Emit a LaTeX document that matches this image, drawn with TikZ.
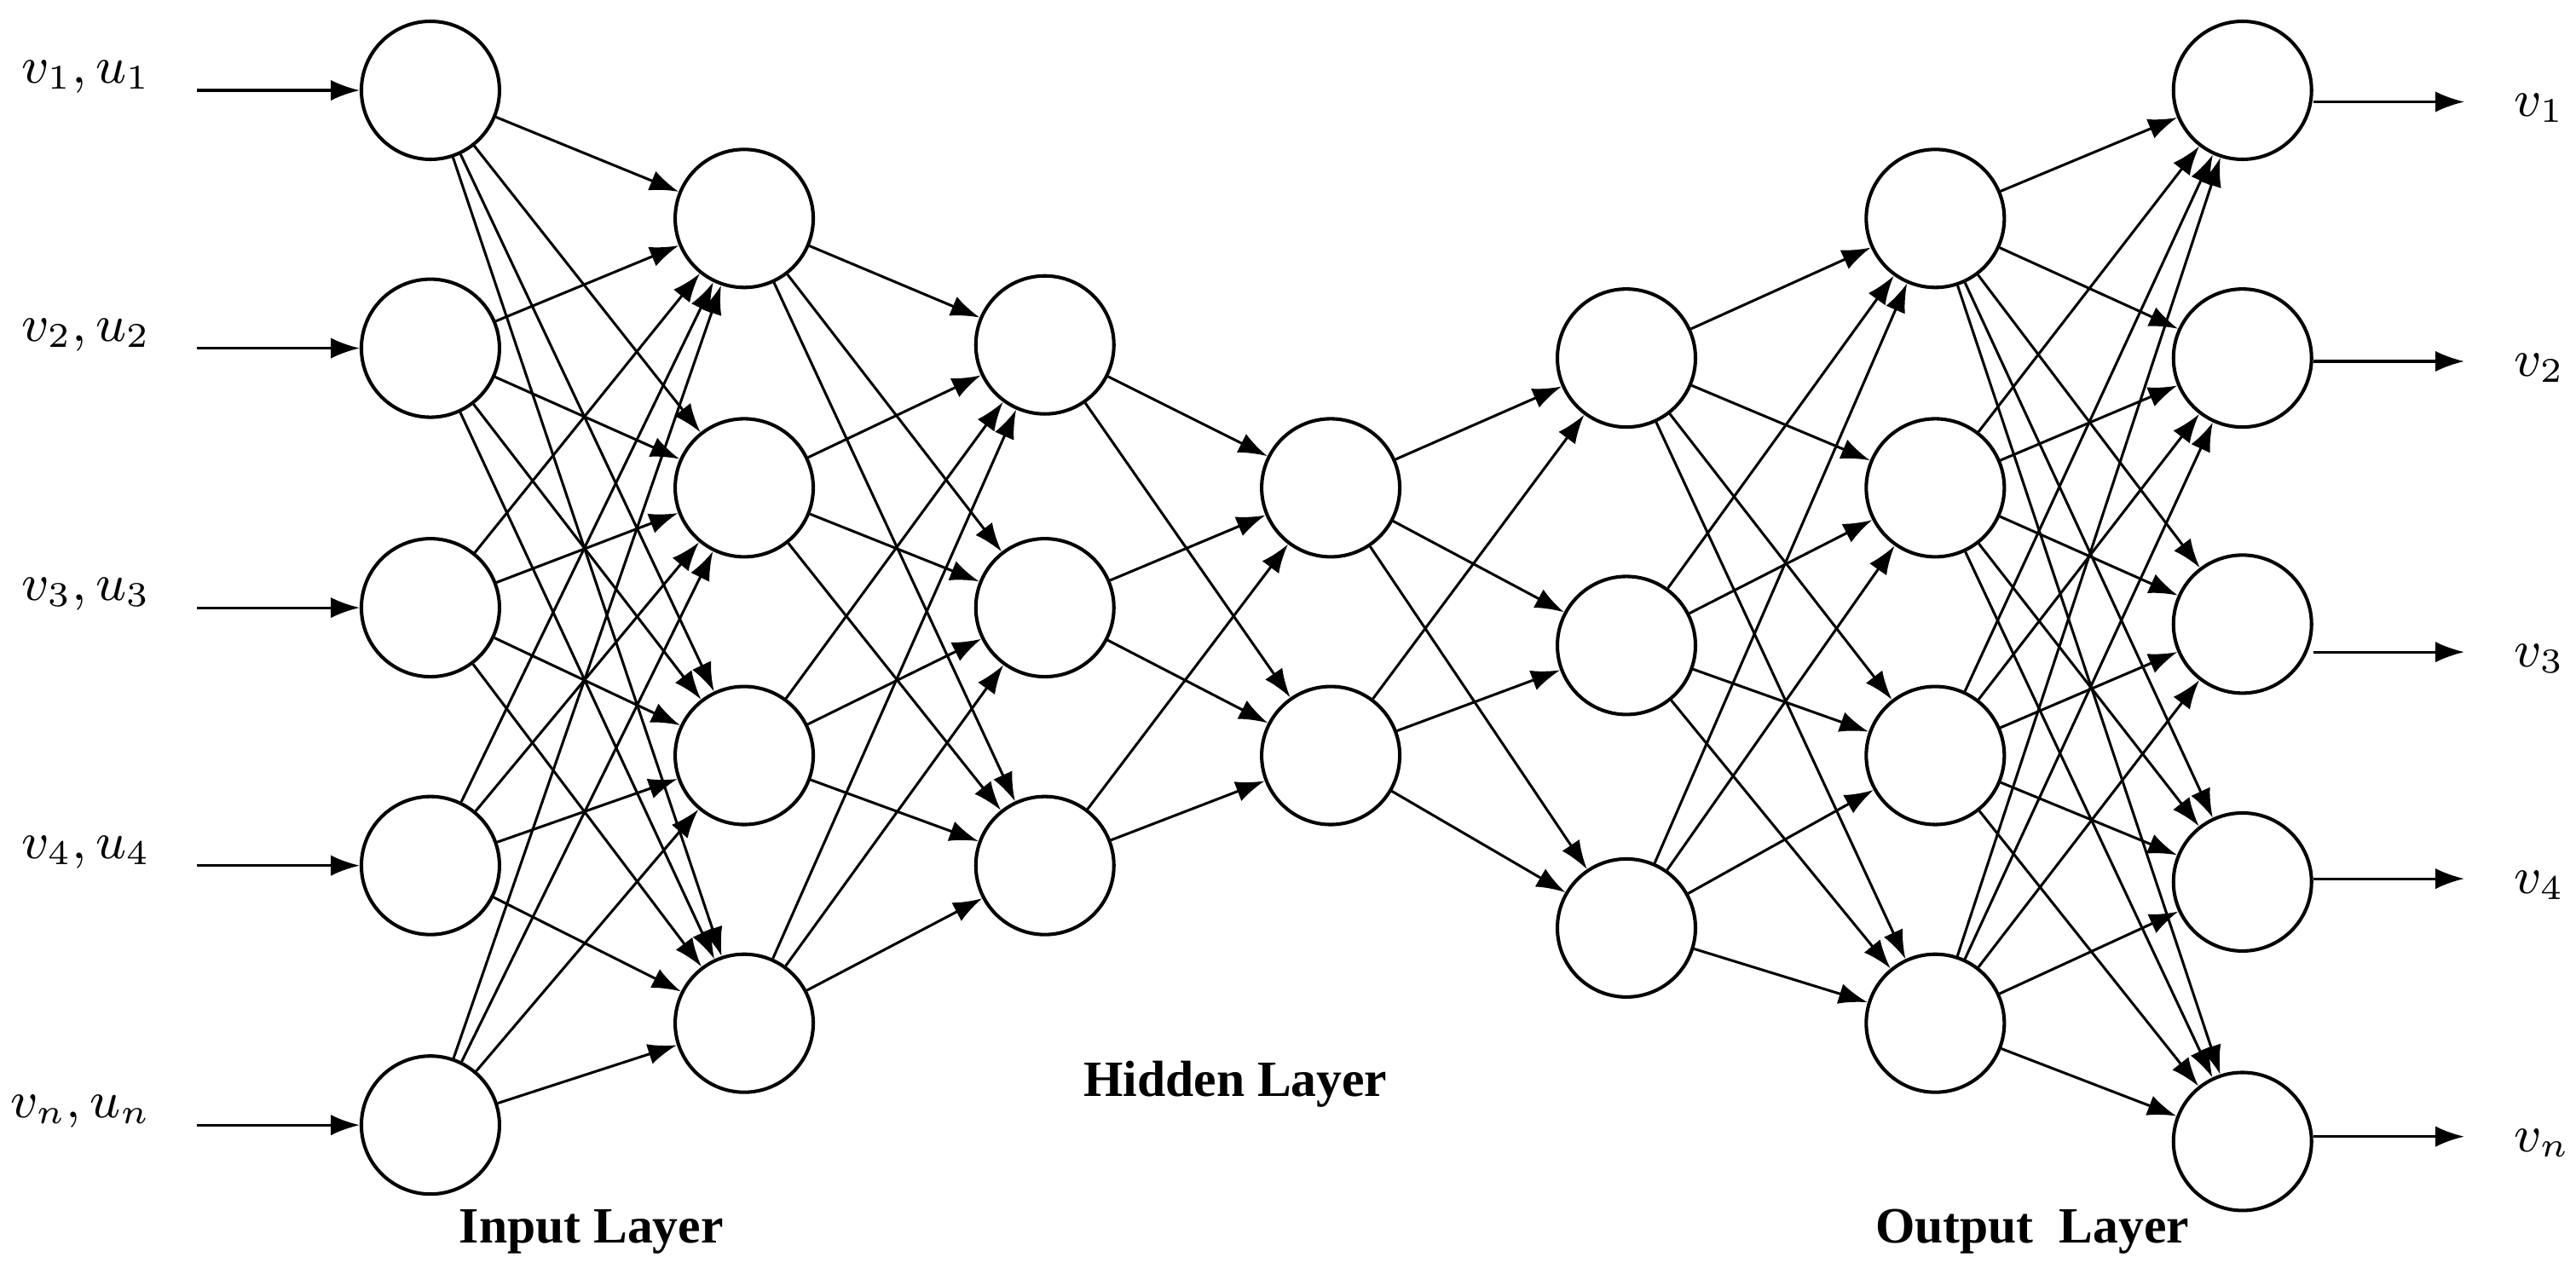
\documentclass[tikz,border=0pt]{standalone}
\usepackage{fontspec}
\newfontfamily\ttlfont{Liberation Serif}
\usetikzlibrary{arrows.meta}
\begin{document}
\begin{tikzpicture}[x=0.01cm,y=-0.01cm,
  neuron/.style={circle,draw,line width=0.6pt,minimum size=0.84cm,inner sep=0pt},
  conn/.style={line width=0.45pt,-{Latex[length=5pt,width=3.6pt]}},
  lab/.style={font=\small},
  ttl/.style={font=\ttlfont\fontsize{8.8}{10}\selectfont\bfseries}]
\useasboundingbox (0,0) rectangle (1568,779);
% layers
\foreach \y [count=\i] in {55,212,370,527,685} \node[neuron] (a\i) at (262,\y) {};
\foreach \y [count=\i] in {133,297,460,623} \node[neuron] (b\i) at (453,\y) {};
\foreach \y [count=\i] in {210,370,527} \node[neuron] (c\i) at (636,\y) {};
\foreach \y [count=\i] in {297,460} \node[neuron] (d\i) at (810,\y) {};
\foreach \y [count=\i] in {218,393,565} \node[neuron] (e\i) at (990,\y) {};
\foreach \y [count=\i] in {133,297,460,623} \node[neuron] (f\i) at (1178,\y) {};
\foreach \y [count=\i] in {55,218,380,537,695} \node[neuron] (g\i) at (1365,\y) {};
% connections
\foreach \i in {1,...,5} \foreach \j in {1,...,4} \draw[conn] (a\i) -- (b\j);
\foreach \i in {1,...,4} \foreach \j in {1,...,3} \draw[conn] (b\i) -- (c\j);
\foreach \i in {1,...,3} \foreach \j in {1,...,2} \draw[conn] (c\i) -- (d\j);
\foreach \i in {1,...,2} \foreach \j in {1,...,3} \draw[conn] (d\i) -- (e\j);
\foreach \i in {1,...,3} \foreach \j in {1,...,4} \draw[conn] (e\i) -- (f\j);
\foreach \i in {1,...,4} \foreach \j in {1,...,5} \draw[conn] (f\i) -- (g\j);
% inputs
\foreach \y/\t [count=\i] in {55/{v_1, u_1},212/{v_2, u_2},370/{v_3, u_3},527/{v_4, u_4},685/{v_n, u_n}}{
  \coordinate (in\i) at (120,\y);
  \node[lab,anchor=east] (il\i) at (104,\y-8) {$\t$};
  \draw[conn] (in\i) -- (a\i);
}
% outputs
\foreach \y/\t [count=\i] in {62/{v_1},220/{v_2},397/{v_3},535/{v_4},692/{v_n}}{
  \coordinate (out\i) at (1500,\y);
  \node[lab,anchor=west] (ol\i) at (1518,\y+4) {$\t$};
  \draw[conn] (g\i.east |- out\i) -- (out\i);
}
\node[ttl] (t1) at (360,750) {Input Layer};
\node[ttl] (t2) at (752,660) {Hidden Layer};
\node[ttl] (t3) at (1237,750) {Output\ \ Layer};
\end{tikzpicture}
\end{document}
